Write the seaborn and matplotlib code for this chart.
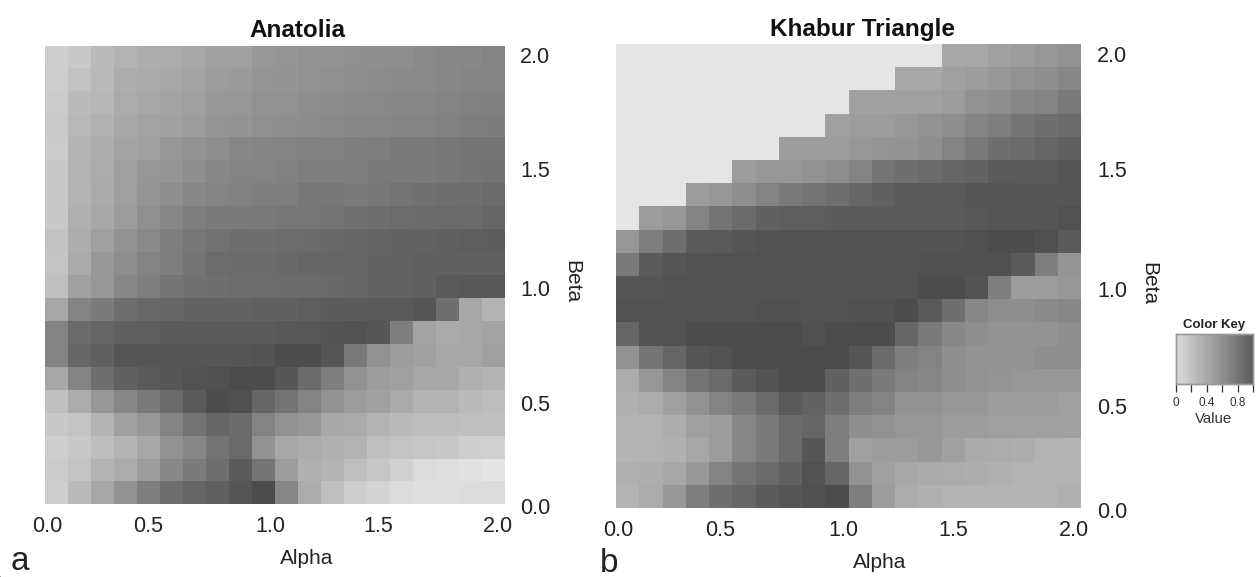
import matplotlib
matplotlib.use("Agg")
import matplotlib.pyplot as plt
import pandas as pd
import seaborn as sns

# ------------------ DATA (value x 100, top row is beta = 2.0) ------------------
anatolia = [
    [15,19,28,33,37,38,41,45,46,51,52,54,55,56,57,57,59,61,62,64],
    [16,23,29,37,39,41,43,48,49,52,53,55,56,57,58,59,60,61,63,64],
    [17,28,31,38,41,43,46,50,51,54,55,57,58,59,60,61,62,64,65,66],
    [18,30,34,40,43,45,48,52,53,56,57,58,60,61,62,63,64,65,67,68],
    [17,32,37,43,46,51,54,57,61,63,64,65,65,67,67,69,70,72,74,74],
    [19,33,38,46,51,52,57,61,64,64,65,67,67,67,69,70,70,72,74,75],
    [19,33,39,46,52,57,61,64,65,67,67,72,72,70,72,74,76,77,78,80],
    [19,35,41,48,56,61,67,69,69,70,72,72,74,76,77,79,80,80,80,83],
    [23,37,46,54,60,67,72,75,78,78,79,80,82,83,84,85,85,87,88,89],
    [22,39,51,57,64,67,74,79,80,80,81,83,83,83,85,85,86,86,86,86],
    [25,45,51,61,67,74,76,77,79,79,80,80,81,83,85,85,86,91,92,92],
    [41,64,69,78,82,83,85,85,85,86,86,88,90,90,91,91,93,77,41,33],
    [64,80,83,86,88,90,90,90,90,90,92,92,94,96,93,67,43,39,41,43],
    [64,83,86,93,93,93,93,93,93,95,100,100,93,70,54,48,45,41,41,45],
    [41,64,77,86,90,93,96,97,100,100,93,80,67,54,48,45,41,41,35,33],
    [25,38,51,61,70,80,90,99,97,83,74,64,54,48,45,39,33,33,28,26],
    [19,22,32,45,51,64,74,83,80,64,54,51,41,39,33,28,26,26,25,24],
    [15,19,26,33,41,54,61,74,80,54,41,38,35,33,25,22,21,19,15,14],
    [17,22,33,38,48,61,69,77,90,74,48,35,32,25,20,14,7,5,3,1],
    [15,28,41,54,67,77,83,87,93,100,61,38,25,15,11,7,5,5,6,7],
]
khabur = [
    [0,0,0,0,0,0,0,0,0,0,0,0,0,0,41,41,45,48,51,54],
    [0,0,0,0,0,0,0,0,0,0,0,0,41,41,45,48,51,54,57,61],
    [0,0,0,0,0,0,0,0,0,0,45,45,45,45,48,54,57,61,64,70],
    [0,0,0,0,0,0,0,0,0,45,48,48,51,54,57,64,67,74,77,80],
    [0,0,0,0,0,0,0,48,48,48,51,52,54,57,64,70,77,80,83,86],
    [0,0,0,0,0,48,51,51,54,57,64,74,77,80,83,85,90,91,91,93],
    [0,0,0,48,51,57,64,70,74,77,83,86,90,90,91,93,93,93,93,93],
    [0,48,51,64,74,80,86,88,88,90,90,90,90,91,91,92,93,93,93,96],
    [51,67,78,90,91,93,95,96,96,96,96,96,96,96,96,97,100,100,97,90],
    [70,90,93,95,96,96,96,96,96,96,96,96,96,97,97,97,97,90,67,52],
    [93,93,95,95,96,96,96,96,95,95,96,96,96,100,100,95,67,48,48,51],
    [96,96,96,96,96,96,97,97,96,96,97,97,100,91,77,61,57,57,59,61],
    [83,96,96,100,100,100,100,100,97,100,100,100,83,70,61,57,54,54,54,57],
    [54,74,83,93,96,100,100,100,100,100,93,80,67,64,57,54,54,54,57,57],
    [38,51,64,74,80,90,96,100,100,86,77,70,64,61,57,54,52,51,51,51],
    [35,38,45,54,64,70,80,90,85,77,67,64,54,54,51,51,48,48,48,46],
    [32,33,37,45,48,61,70,80,83,67,57,54,51,51,48,48,46,45,45,45],
    [32,33,35,41,48,61,70,80,93,67,45,48,48,51,45,39,38,37,33,32],
    [35,37,41,51,64,74,80,86,96,83,54,46,41,39,38,37,35,33,32,33],
    [32,38,51,67,77,83,90,93,97,100,67,48,38,35,33,33,32,32,33,35],
]
x_labels = ["0.0", "0.5", "1.0", "1.5", "2.0"]
y_labels = ["2.0", "1.5", "1.0", "0.5", "0.0"]
key_ticks = [0, 0.2, 0.4, 0.6, 0.8, 1.0]
key_labels = ["0", "", "0.4", "", "0.8", ""]

W, H = 1259, 577
TEXT = "#222222"
sns.set_theme(style="white")
plt.rcParams['font.family'] = ['Liberation Sans', 'DejaVu Sans']
cmap = sns.blend_palette(["#E5E5E5", "#4C4C4C"], n_colors=64, as_cmap=True)
key_cmap = sns.blend_palette(["#DCDCDC", "#5C5C5C"], n_colors=16, as_cmap=True)

def box(x0, y0, x1, y1):
    return [x0 / W, 1 - y1 / H, (x1 - x0) / W, (y1 - y0) / H]

fig = plt.figure(figsize=(W / 100, H / 100), dpi=100)

def panel(rows, rect, title, title_x, xpad, ypad, alpha_xy, beta_xy, letter, letter_xy):
    ax = fig.add_axes(box(*rect))
    df = pd.DataFrame(rows) / 100
    sns.heatmap(df, ax=ax, cmap=cmap, vmin=0, vmax=1, cbar=False)
    # the labels in the original sit slightly inside the panel ends
    ax.set_xticks([0.1, 4.5, 9.8, 14.5, 19.7])
    ax.set_xticklabels(x_labels, rotation=0, fontsize=15.5, color=TEXT)
    ax.yaxis.tick_right()
    ax.set_yticks([0.41, 5.4, 10.56, 15.6, 20.09])
    ax.set_yticklabels(y_labels, rotation=0, fontsize=15.5, color=TEXT)
    ax.tick_params(length=0)
    ax.tick_params(axis="x", pad=xpad)
    ax.tick_params(axis="y", pad=ypad)
    ax.set_title(title, x=(title_x - rect[0]) / (rect[2] - rect[0]), fontsize=17.5,
                 fontweight="bold", pad=6, color="#111111")
    ax.set_xlabel("")
    ax.set_ylabel("")
    fig.text(alpha_xy[0] / W, 1 - alpha_xy[1] / H, "Alpha", fontsize=15,
             ha="center", va="center", color=TEXT)
    fig.text(beta_xy[0] / W, 1 - beta_xy[1] / H, "Beta", rotation=270, fontsize=15,
             ha="center", va="center", color=TEXT)
    fig.text(letter_xy[0] / W, 1 - letter_xy[1] / H, letter, fontsize=24, ha="center",
             va="center", color=TEXT)
    return ax

panel(anatolia, (44.5, 45.5, 505, 506.5), "Anatolia", 297, 6.5, 10.8,
      (307, 558), (572, 282), "a", (20, 562))
panel(khabur, (616, 44, 1081, 510), "Khabur Triangle", 862, 7, 11.5,
      (880, 562), (1149, 284), "b", (609, 563))

# ------------------ COLOR KEY ------------------
key_ax = fig.add_axes(box(1176, 334, 1253, 384))
hidden = fig.add_axes([0, 0, 0.001, 0.001])
sns.heatmap(pd.DataFrame(anatolia) / 100, ax=hidden, cmap=key_cmap, vmin=0, vmax=1,
            cbar_ax=key_ax, cbar_kws={"orientation": "horizontal", "ticks": key_ticks})
hidden.set_axis_off()
key_ax.set_xticklabels(key_labels, fontsize=8.5, color="#333333")
key_ax.tick_params(axis="x", length=6, width=0.9, pad=3.5, bottom=True, color="#333333")
for spine in key_ax.spines.values():
    spine.set_visible(True)
    spine.set_edgecolor("#999999")
    spine.set_linewidth(1)
key_ax.set_title("Color Key", fontsize=9.5, fontweight="bold", pad=4, color=TEXT)
fig.text(1214 / W, 1 - 419 / H, "Value", fontsize=10.8, ha="center", va="center", color="#333333")

fig.savefig("out.png", dpi=100)
